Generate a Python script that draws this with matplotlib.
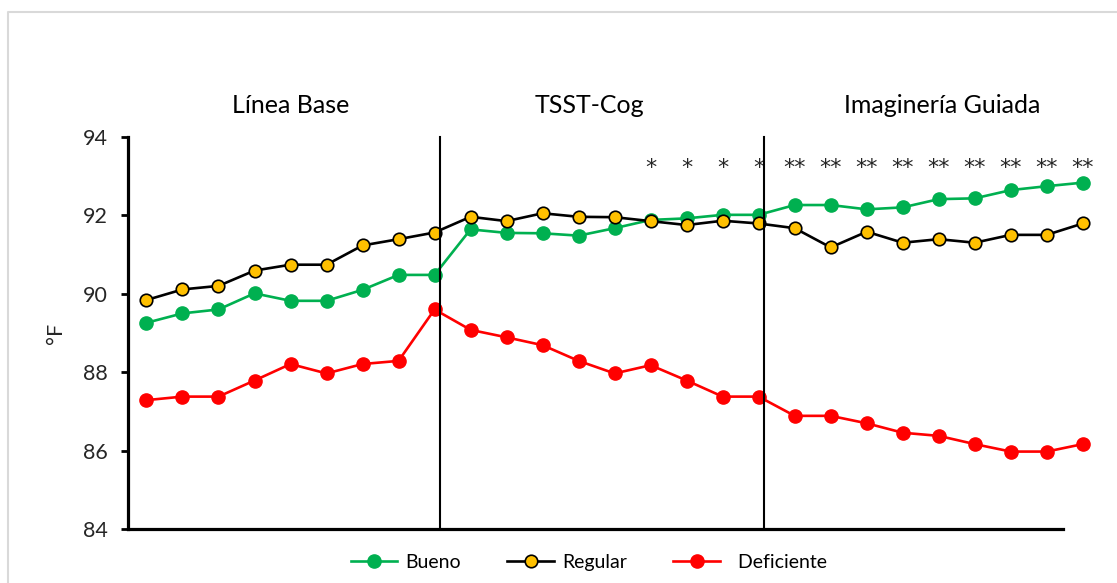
import matplotlib

matplotlib.use("Agg")
import matplotlib.pyplot as plt
from matplotlib.lines import Line2D

plt.rcParams["font.family"] = ["Lato", "DejaVu Sans"]

# 27 measurements: 9 baseline, 9 TSST-Cog, 9 guided imagery
bueno = [89.26, 89.50, 89.60, 90.01, 89.82, 89.82, 90.10, 90.48, 90.48,
         91.64, 91.55, 91.54, 91.48, 91.67, 91.88, 91.92, 92.01, 92.01,
         92.26, 92.26, 92.15, 92.20, 92.41, 92.43, 92.64, 92.74, 92.83]
regular = [89.84, 90.11, 90.20, 90.59, 90.74, 90.74, 91.23, 91.39, 91.56,
           91.96, 91.85, 92.05, 91.96, 91.95, 91.85, 91.75, 91.86, 91.79,
           91.67, 91.18, 91.58, 91.30, 91.39, 91.30, 91.50, 91.50, 91.79]
deficiente = [87.29, 87.38, 87.38, 87.79, 88.21, 87.97, 88.21, 88.29, 89.60,
              89.08, 88.89, 88.69, 88.29, 87.97, 88.18, 87.79, 87.38, 87.38,
              86.89, 86.89, 86.70, 86.46, 86.38, 86.17, 85.98, 85.98, 86.17]

phase_names = ["Línea Base", "TSST-Cog", "Imaginería Guiada"]
phase_label_x = [4.0, 12.3, 22.1]
phase_breaks = [8.16, 17.14]

sig_index = list(range(14, 27))
sig_marks = ["*"] * 4 + ["**"] * 9

GREEN = "#00B050"
YELLOW = "#FFC000"
RED = "#FF0000"
TEXT = "#262626"

fig = plt.figure(figsize=(11.17, 5.83), dpi=100)
ax = fig.add_axes([0.115, 0.0921, 0.8705, 0.6734])

x = list(range(len(bueno)))
ax.plot(x, bueno, color=GREEN, lw=1.9, marker="o", ms=9.5,
        mfc=GREEN, mec=GREEN, label="Bueno", zorder=3)
ax.plot(x, regular, color="black", lw=1.9, marker="o", ms=9,
        mfc=YELLOW, mec="black", mew=1.2, label="Regular", zorder=4)
ax.plot(x, deficiente, color=RED, lw=1.9, marker="o", ms=9.5,
        mfc=RED, mec=RED, label="  Deficiente", zorder=3)

for xb in phase_breaks:
    ax.plot([xb, xb], [84, 94], color="black", lw=1.5, zorder=5, clip_on=False)

for name, xp in zip(phase_names, phase_label_x):
    ax.text(xp, 94.8, name, ha="center", va="center", fontsize=18,
            color="black", clip_on=False)

for i, m in zip(sig_index, sig_marks):
    ax.text(i, 93.2, m, ha="center", va="center", fontsize=16,
            family="DejaVu Sans", color=TEXT, clip_on=False)

ax.set_xlim(-0.5, 26.5)
ax.set_ylim(84, 94)
ax.set_yticks([84, 86, 88, 90, 92, 94])
ax.set_xticks([])
ax.tick_params(axis="y", direction="out", length=5, width=2, pad=10,
               labelsize=15.5, labelcolor=TEXT)
for side in ("top", "right"):
    ax.spines[side].set_visible(False)
ax.spines["left"].set_linewidth(2.3)
ax.spines["bottom"].set_linewidth(2.3)
ax.spines["bottom"].set_bounds(-0.5, 25.45)
ax.set_ylabel("°F", fontsize=15.5, color=TEXT, labelpad=12)

fig.legend(loc="center", bbox_to_anchor=(0.527, 0.036), ncol=3,
           frameon=False, fontsize=14, handlelength=2.4,
           handletextpad=0.4, columnspacing=2.4)

fig.add_artist(Line2D([8 / 1117, 8 / 1117, 1.0], [0.0, 1 - 12 / 583, 1 - 12 / 583],
                      transform=fig.transFigure, color="#d9d9d9", lw=1.5))

fig.savefig("out.png")
